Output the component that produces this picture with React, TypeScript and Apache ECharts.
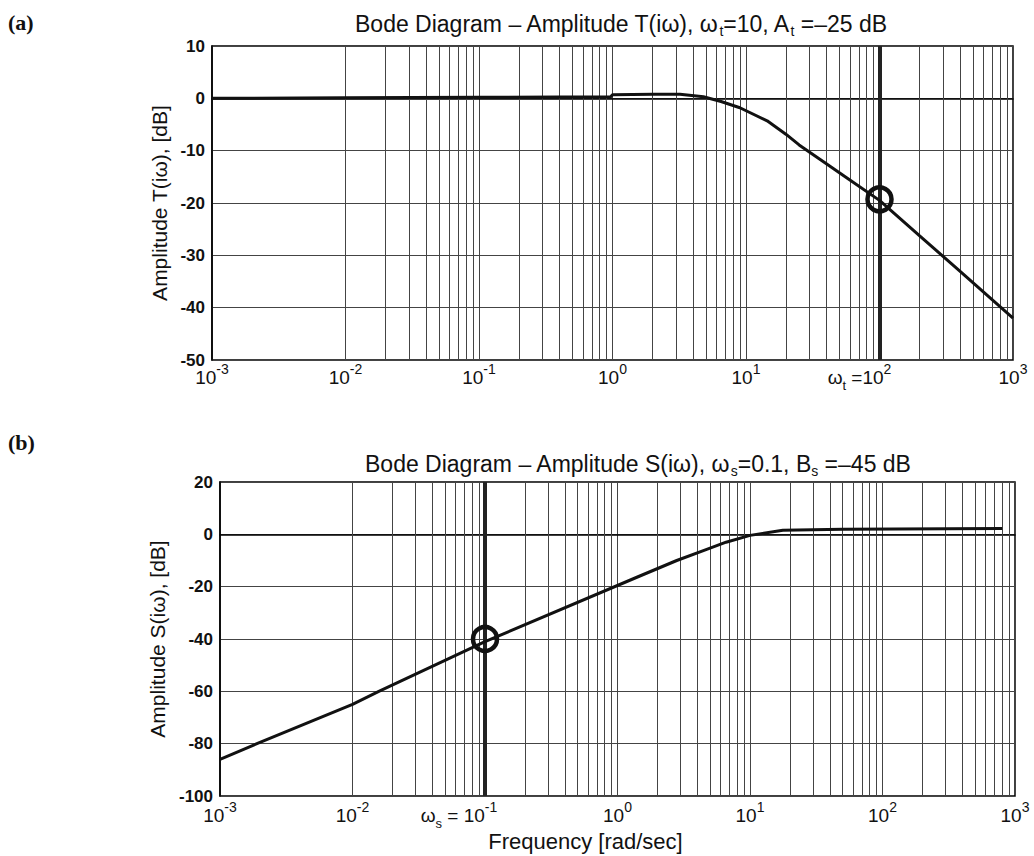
import React, { useEffect, useRef } from "react";
import * as echarts from "echarts";

// ---------- data ----------
// (a) complementary sensitivity T(iω)
const freqT = [0.001, 0.01, 0.1, 0.97, 1.0, 2, 3.2, 4.8, 6.5, 9, 14.4, 20, 25, 40, 60, 100, 200, 400, 1000];
const ampT = [0, 0.1, 0.2, 0.3, 0.7, 0.8, 0.8, 0.3, -0.6, -1.8, -4.3, -6.9, -8.9, -12.5, -15.6, -19.5, -26.3, -33, -42];
// (b) sensitivity S(iω)
const freqS = [0.001, 0.0019, 0.01, 0.0158, 0.1, 1.4, 2.8, 4.5, 6.6, 10, 17.7, 50, 800];
const ampS = [-86, -80, -65, -60, -41, -16.4, -10, -6.1, -3, -0.4, 1.6, 1.9, 2.2];

const markerT = [100, -19.3];
const markerS = [0.1, -40];

const xMin = 0.001;
const xMax = 1000;
const yRangeT = [-50, 10, 10];
const yRangeS = [-100, 20, 20];

const titleT = "{a|Bode Diagram – Amplitude T(iω), ω}{s|t}{a|=10, A}{s|t}{a| =–25 dB}";
const titleS = "{a|Bode Diagram – Amplitude S(iω), ω}{s|s}{a|=0.1, B}{s|s}{a| =–45 dB}";
const yNameT = "Amplitude T(iω), [dB]";
const yNameS = "Amplitude S(iω), [dB]";
const xNameS = "Frequency [rad/sec]";

const decades = [0.001, 0.01, 0.1, 1, 10, 100];
const mults = [2, 3, 4, 5, 6, 7, 8, 9];

const FONT = "'Liberation Sans', Arial, Helvetica, sans-serif";

export default function App() {
  const ref = useRef<HTMLDivElement>(null);

  useEffect(() => {
    document.body.style.margin = "0";
    const chart = echarts.init(ref.current!, null, { renderer: "svg" });

    const minor: number[] = [];
    decades.forEach((d) => mults.forEach((m) => minor.push(+(d * m).toPrecision(3))));

    const base = { color: "#111", fontFamily: FONT, fontWeight: "normal" };
    const richX = {
      b: { ...base, fontSize: 19, lineHeight: 30, verticalAlign: "middle" },
      sup: { ...base, fontSize: 14, lineHeight: 14, verticalAlign: "top" },
      supR: { ...base, fontSize: 14, lineHeight: 14, verticalAlign: "top", padding: [0, 40, 0, 0] },
      supR2: { ...base, fontSize: 14, lineHeight: 14, verticalAlign: "top", padding: [0, 52, 0, 0] },
      sub: { ...base, fontSize: 13, lineHeight: 15, verticalAlign: "bottom" },
    };

    const fmtT = (v: number) => {
      const e = Math.round(Math.log10(v));
      if (e === 2) return `{b|ω}{sub|t}{b| =10}{supR|${e}}`;
      return `{b|10}{sup|${e}}`;
    };
    const fmtS = (v: number) => {
      const e = Math.round(Math.log10(v));
      if (e === -1) return `{b|ω}{sub|s}{b| = 10}{supR2|${e}}`;
      return `{b|10}{sup|${e}}`;
    };

    const gridLine = { show: true, lineStyle: { color: "#444", width: 1 } };
    const axisLine = { show: true, lineStyle: { color: "#000", width: 1.5 } };
    const titleRich = {
      a: { ...base, fontSize: 23, lineHeight: 28, verticalAlign: "middle" },
      s: { ...base, fontSize: 14, lineHeight: 16, verticalAlign: "bottom" },
    };

    const xAxisBase = (gridIndex: number, fmt: (v: number) => string, margin: number) => ({
      type: "log",
      logBase: 10,
      gridIndex,
      min: xMin,
      max: xMax,
      splitNumber: 6,
      axisLine,
      axisTick: { show: false },
      splitLine: gridLine,
      axisLabel: { formatter: fmt, rich: richX, margin, color: "#111", showMinLabel: true, showMaxLabel: true },
    });

    const yAxisBase = (gridIndex: number, r: number[], name: string, gap: number) => ({
      type: "value",
      gridIndex,
      min: r[0],
      max: r[1],
      interval: r[2],
      name,
      nameLocation: "middle",
      nameGap: gap,
      nameRotate: 90,
      nameTextStyle: { fontSize: 21, color: "#111", fontFamily: FONT },
      axisLine,
      axisTick: { show: false },
      splitLine: gridLine,
      axisLabel: { fontSize: 17, fontWeight: "bold", color: "#111", fontFamily: FONT, margin: 7 },
    });

    const minorLines = (xi: number, yi: number) => ({
      type: "line",
      xAxisIndex: xi,
      yAxisIndex: yi,
      data: [],
      silent: true,
      z: 1,
      markLine: {
        silent: true,
        symbol: ["none", "none"],
        label: { show: false },
        lineStyle: { color: "#444", width: 1, type: "solid" },
        data: minor.map((v) => ({ xAxis: v })),
      },
    });

    const curve = (xi: number, yi: number, fx: number[], fy: number[]) => ({
      type: "line",
      xAxisIndex: xi,
      yAxisIndex: yi,
      data: fx.map((f, i) => [f, fy[i]]),
      showSymbol: false,
      symbol: "none",
      lineStyle: { color: "#111", width: 3 },
      z: 5,
    });

    const marker = (xi: number, yi: number, m: number[]) => ({
      type: "scatter",
      xAxisIndex: xi,
      yAxisIndex: yi,
      data: [m],
      symbol: "circle",
      symbolSize: 24,
      itemStyle: { color: "rgba(0,0,0,0)", borderColor: "#111", borderWidth: 4.5, opacity: 1 },
      z: 6,
      markLine: {
        silent: true,
        symbol: ["none", "none"],
        label: { show: false },
        lineStyle: { color: "#222", width: 4, type: "solid" },
        data: [{ xAxis: m[0] }],
      },
    });

    chart.setOption({
      animation: false,
      backgroundColor: "#fff",
      title: [
        { text: titleT, left: 350, top: 5, textStyle: { rich: titleRich, fontWeight: "normal" } },
        { text: titleS, left: 360, top: 445, textStyle: { rich: titleRich, fontWeight: "normal" } },
      ],
      graphic: [
        { type: "text", left: 8, top: 11, style: { text: "(a)", font: "bold 22px 'Liberation Serif', 'Times New Roman', serif", fill: "#111" } },
        { type: "text", left: 8, top: 431, style: { text: "(b)", font: "bold 22px 'Liberation Serif', 'Times New Roman', serif", fill: "#111" } },
      ],
      grid: [
        { left: 212, top: 46, width: 801, height: 314, show: true, borderColor: "#000", borderWidth: 1.5, backgroundColor: "transparent" },
        { left: 220, top: 482, width: 795, height: 314, show: true, borderColor: "#000", borderWidth: 1.5, backgroundColor: "transparent" },
      ],
      xAxis: [
        xAxisBase(0, fmtT, 2),
        {
          ...xAxisBase(1, fmtS, 4),
          name: xNameS,
          nameLocation: "middle",
          nameGap: 34,
          nameTextStyle: { fontSize: 22, color: "#111", fontFamily: FONT, padding: [0, 64, 0, 0] },
        },
      ],
      yAxis: [yAxisBase(0, yRangeT, yNameT, 42), yAxisBase(1, yRangeS, yNameS, 44)],
      series: [
        minorLines(0, 0),
        minorLines(1, 1),
        curve(0, 0, freqT, ampT),
        curve(1, 1, freqS, ampS),
        marker(0, 0, markerT),
        marker(1, 1, markerS),
      ],
    });

    return () => chart.dispose();
  }, []);

  return <div ref={ref} style={{ width: 1034, height: 856, background: "#fff" }} />;
}
